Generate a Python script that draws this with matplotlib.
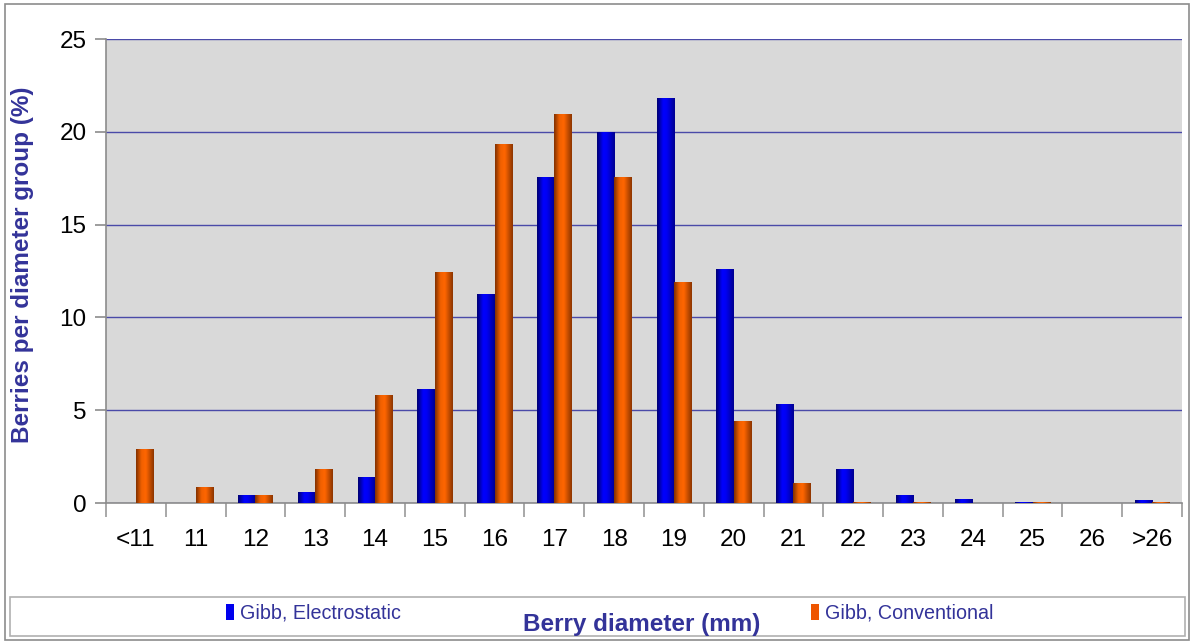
import numpy as np
import matplotlib
matplotlib.use("Agg")
import matplotlib.pyplot as plt
from matplotlib.colors import LinearSegmentedColormap
from matplotlib.patches import Rectangle, Patch

categories = ["<11", "11", "12", "13", "14", "15", "16", "17", "18", "19",
              "20", "21", "22", "23", "24", "25", "26", ">26"]
electrostatic = [0.0, 0.0, 0.43, 0.6, 1.4, 6.15, 11.26, 17.56, 20.0, 21.8,
                 12.6, 5.33, 1.83, 0.43, 0.22, 0.05, 0.0, 0.16]
conventional = [2.9, 0.88, 0.43, 1.83, 5.8, 12.45, 19.34, 20.96, 17.56, 11.9,
                4.42, 1.08, 0.05, 0.05, 0.0, 0.05, 0.0, 0.05]
series_names = ["Gibb, Electrostatic", "Gibb, Conventional"]
yticks = [0, 5, 10, 15, 20, 25]

plt.rcParams['font.family'] = ['Liberation Sans', 'DejaVu Sans']
TXT = '#333399'

fig = plt.figure(figsize=(11.94, 6.44), dpi=100)
fig.patch.set_facecolor('white')
# outer frame
fig.patches.append(Rectangle((5/1194, 4/644), 1184/1194, 636/644, transform=fig.transFigure,
                             fill=False, edgecolor='#8c8c8c', linewidth=1.2))
# legend frame
fig.patches.append(Rectangle((10/1194, 1-636/644), 1175/1194, 39/644, transform=fig.transFigure,
                             fill=False, edgecolor='#b0b0b0', linewidth=1.2))

ax = fig.add_axes([106/1194, 1-503/644, 1076/1194, 464/644])
ax.set_facecolor('#d9d9d9')

x = np.arange(len(categories)) + 0.5
w = 0.29
b1 = ax.bar(x - w/2, electrostatic, w, color='#0000ee', zorder=3, linewidth=0)
b2 = ax.bar(x + w/2, conventional, w, color='#ee5500', zorder=3, linewidth=0)

cm_blue = LinearSegmentedColormap.from_list('b', [(0, '#000070'), (0.35, '#0000ff'), (0.55, '#0000f4'), (1, '#000090')])
cm_orng = LinearSegmentedColormap.from_list('o', [(0, '#803000'), (0.3, '#f06000'), (0.55, '#ff6600'), (1, '#8c3500')])
grad = np.linspace(0, 1, 64).reshape(1, -1)
for bars, cmap in ((b1, cm_blue), (b2, cm_orng)):
    for p in bars:
        h = p.get_height()
        if h <= 0:
            continue
        x0 = p.get_x()
        im = ax.imshow(grad, cmap=cmap, extent=[x0, x0 + p.get_width(), 0, h],
                       aspect='auto', zorder=4, interpolation='bicubic')
        im.set_clip_path(p)

ax.set_xlim(0, len(categories))
ax.set_ylim(0, 25)
ax.set_yticks(yticks)
ax.set_yticklabels([str(t) for t in yticks], fontsize=17.5)
ax.yaxis.grid(True, color='#4a4aa8', linewidth=1.0, zorder=1)
ax.set_axisbelow(True)

ax.set_xticks(np.arange(len(categories) + 1))
ax.set_xticklabels([])
ax.set_xticks(x, minor=True)
ax.set_xticklabels(categories, minor=True, fontsize=17.5)
ax.tick_params(axis='x', which='minor', length=0, pad=19)
ax.tick_params(axis='x', which='major', length=10, color='#9a9a9a', width=1.2)
ax.tick_params(axis='y', length=8, color='#8c8c8c', width=1.2, pad=6)

for s in ['top', 'right']:
    ax.spines[s].set_visible(False)
for s in ['left', 'bottom']:
    ax.spines[s].set_color('#8c8c8c')
    ax.spines[s].set_linewidth(1.2)

fig.text(23/1194, 1-265/644, "Berries per diameter group (%)", rotation=90, ha='center', va='center',
         fontsize=17.5, fontweight='bold', color=TXT)
fig.text(642/1194, 1-624/644, "Berry diameter (mm)", ha='center', va='center',
         fontsize=17.5, fontweight='bold', color=TXT)

handles = [Patch(facecolor='#0000ee', edgecolor='none'), Patch(facecolor='#ee5500', edgecolor='none')]
fig.legend(handles, series_names, loc='center', bbox_to_anchor=(610/1194, 1-613/644),
           ncol=2, frameon=False, fontsize=14.2, labelcolor=TXT, handlelength=0.4,
           handleheight=0.9, handletextpad=0.3, columnspacing=20.8)

fig.savefig('out.png', dpi=100)
